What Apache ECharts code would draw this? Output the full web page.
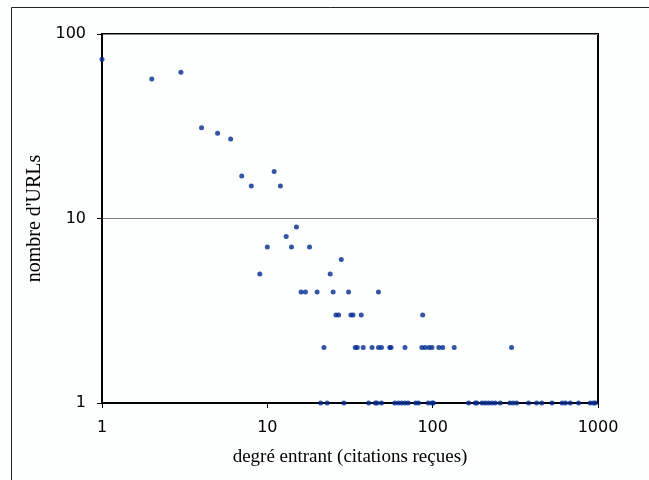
<!DOCTYPE html>
<html>
<head>
<meta charset="utf-8">
<script src="https://cdn.jsdelivr.net/npm/echarts@6/dist/echarts.min.js"></script>
<style>
  html, body { margin: 0; padding: 0; background: #fdfefe; }
  #chart { width: 649px; height: 480px; }
</style>
</head>
<body>
<div id="chart"></div>
<script>
// In-degree (citations received) of each URL count bucket, with number of URLs
const degrees = [
  1, 2, 3, 4, 5, 6, 7, 8, 11, 12, 13, 15,
  10, 14, 18, 28, 9, 24,
  16, 17, 20, 25, 31, 47,
  26, 27, 32, 33, 37, 87,
  22, 34, 35, 38, 43, 47, 49, 55, 56, 68, 86, 90, 95, 99, 109, 115, 135, 300,
  21, 23, 29, 41, 45, 46, 49, 59, 62, 65, 68, 71, 79, 82, 94, 99, 101,
  165, 181, 185, 199, 208, 218, 228, 239, 256, 293, 307, 322, 380, 425, 457,
  527, 607, 635, 680, 763, 898, 940, 963
];
const urlCounts = [
  73, 57, 62, 31, 29, 27, 17, 15, 18, 15, 8, 9,
  7, 7, 7, 6, 5, 5,
  4, 4, 4, 4, 4, 4,
  3, 3, 3, 3, 3, 3,
  2, 2, 2, 2, 2, 2, 2, 2, 2, 2, 2, 2, 2, 2, 2, 2, 2, 2,
  1, 1, 1, 1, 1, 1, 1, 1, 1, 1, 1, 1, 1, 1, 1, 1, 1,
  1, 1, 1, 1, 1, 1, 1, 1, 1, 1, 1, 1, 1, 1, 1,
  1, 1, 1, 1, 1, 1, 1, 1
];
const xTitle = "degré entrant (citations reçues)";
const yTitle = "nombre d'URLs";

const points = degrees.map((d, i) => [d, urlCounts[i]]);

const chart = echarts.init(document.getElementById('chart'), null, { renderer: 'canvas' });
const labelFont = { color: '#000', fontFamily: 'DejaVu Sans', fontSize: 16 };
const plainNumber = v => String(Math.round(v));

chart.setOption({
  animation: false,
  backgroundColor: '#fdfefe',
  graphic: [{
    type: 'rect',
    shape: { x: 11.5, y: 7.5, width: 700, height: 600 },
    style: { fill: 'none', stroke: '#222', lineWidth: 1 },
    silent: true
  }],
  grid: {
    left: 102, top: 34, right: 51, bottom: 77,
    show: true, borderColor: '#000', borderWidth: 2, backgroundColor: 'transparent'
  },
  xAxis: {
    type: 'log', logBase: 10, min: 1, max: 1000,
    name: xTitle, nameLocation: 'middle', nameGap: 45,
    nameTextStyle: { color: '#000', fontFamily: 'Liberation Serif', fontSize: 19 },
    axisLine: { show: true, lineStyle: { color: '#000', width: 2 } },
    axisTick: { show: true, length: 5, inside: false, lineStyle: { color: '#000' } },
    minorTick: { show: false },
    axisLabel: Object.assign({ margin: 17, formatter: plainNumber }, labelFont),
    splitLine: { show: false }
  },
  yAxis: {
    type: 'log', logBase: 10, min: 1, max: 100,
    name: yTitle, nameLocation: 'middle', nameGap: 52,
    nameTextStyle: { color: '#000', fontFamily: 'Liberation Serif', fontSize: 20 },
    axisLine: { show: true, lineStyle: { color: '#000', width: 2 } },
    axisTick: { show: true, length: 5, inside: false, lineStyle: { color: '#000' } },
    minorTick: { show: false },
    axisLabel: Object.assign({ margin: 16, formatter: plainNumber }, labelFont),
    splitLine: { show: true, lineStyle: { color: '#808080', width: 1.2 } }
  },
  series: [{
    type: 'scatter',
    data: points,
    symbol: 'circle',
    symbolSize: 5,
    itemStyle: { color: '#002a8f' },
    clip: false
  }]
});
</script>
</body>
</html>
